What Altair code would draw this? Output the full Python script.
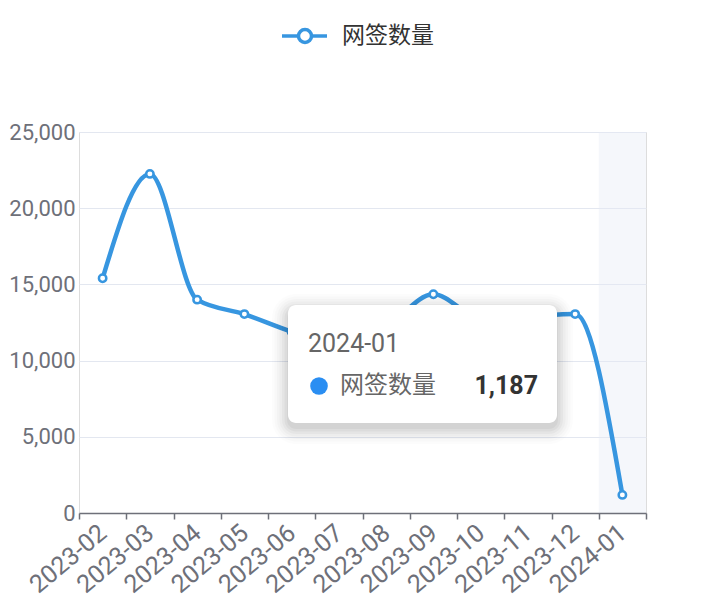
import altair as alt
import pandas as pd

categories = ["2023-02", "2023-03", "2023-04", "2023-05", "2023-06", "2023-07",
              "2023-08", "2023-09", "2023-10", "2023-11", "2023-12", "2024-01"]
values = [15400, 22250, 14000, 13050, 11900, 11000, 12200, 14350, 12800, 12900, 13050, 1187]
series_name = "网签数量"
y_ticks = [0, 5000, 10000, 15000, 20000, 25000]

CJK = "Noto Sans CJK SC"
NUM = "Roboto"
BLUE = "#3796e0"

df = pd.DataFrame({"month": categories, "value": values})
hl = pd.DataFrame({"month": [categories[-1]], "lo": [0], "hi": [25000]})
one = pd.DataFrame({"k": [0]})

W, H = 567, 381

x_enc = alt.X("month:N", sort=categories,
              scale=alt.Scale(domain=categories, paddingInner=0, paddingOuter=0),
              axis=alt.Axis(title=None, labelAngle=-40, labelAlign="right", labelBaseline="middle",
                            labelFontSize=25, labelColor="#6E7079", labelFont=NUM,
                            labelPadding=10, domainColor="#6E7079", domainWidth=1.5,
                            tickColor="#6E7079", tickSize=6, tickWidth=1.5, tickBand="extent",
                            grid=False))
y_scale = alt.Scale(domain=[0, 25000], nice=False)
y_axis = alt.Axis(title=None, values=y_ticks, format=",.0f", labelFontSize=22, labelColor="#6E7079",
                  labelFont=NUM, labelPadding=4, domain=False, ticks=False,
                  gridColor="#E3E7F0", gridWidth=1.2)

band = alt.Chart(hl).mark_rect(color="#e6eaf4", opacity=0.4).encode(
    x=x_enc,
    y=alt.Y("lo:Q", scale=y_scale, axis=y_axis),
    y2="hi:Q",
)

line = alt.Chart(df).mark_line(interpolate="monotone", color=BLUE, strokeWidth=4.5).encode(
    x=x_enc, y=alt.Y("value:Q", scale=y_scale, axis=y_axis)
)
pts = alt.Chart(df).mark_point(filled=True, fill="white", stroke=BLUE, strokeWidth=2.5,
                               size=55, opacity=1).encode(
    x=x_enc, y=alt.Y("value:Q", scale=y_scale)
)

# Legend (drawn)
leg_line = alt.Chart(one).mark_rule(color=BLUE, strokeWidth=3.5).encode(
    x=alt.value(203), x2=alt.value(248), y=alt.value(-96))
leg_pt = alt.Chart(one).mark_point(filled=True, fill="white", stroke=BLUE, strokeWidth=3.5,
                                   size=170, opacity=1).encode(
    x=alt.value(226), y=alt.value(-96))
leg_txt = alt.Chart(one).mark_text(align="left", baseline="middle", fontSize=23, font=CJK,
                                   color="#333333").encode(
    x=alt.value(263), y=alt.value(-96), text=alt.value(series_name))

# Tooltip (drawn)
tx0, tx1, ty0, ty1 = 209, 478, 173, 291
shadows = []
for i, op in enumerate([0.012, 0.016, 0.02, 0.025, 0.03, 0.035, 0.04]):
    g = 16 - 2.5 * i
    shadows.append(alt.Chart(one).mark_rect(color="black", opacity=op, cornerRadius=8 + g).encode(
        x=alt.value(tx0 - g), x2=alt.value(tx1 + g), y=alt.value(ty0 - g + 5), y2=alt.value(ty1 + g + 5)))
tip_box = alt.Chart(one).mark_rect(color="white", cornerRadius=8).encode(
    x=alt.value(tx0), x2=alt.value(tx1), y=alt.value(ty0), y2=alt.value(ty1))
tip_title = alt.Chart(one).mark_text(align="left", baseline="middle", fontSize=25, font=NUM,
                                     color="#666666").encode(
    x=alt.value(229), y=alt.value(212), text=alt.value(categories[-1]))
tip_dot = alt.Chart(one).mark_point(filled=True, color="#2a8ef2", size=310, opacity=1).encode(
    x=alt.value(240), y=alt.value(254))
tip_name = alt.Chart(one).mark_text(align="left", baseline="middle", fontSize=24, font=CJK,
                                    color="#666666").encode(
    x=alt.value(261), y=alt.value(254), text=alt.value(series_name))
tip_val = alt.Chart(one).mark_text(align="right", baseline="middle", fontSize=25, font=NUM,
                                   fontWeight="bold", color="#333333").encode(
    x=alt.value(459), y=alt.value(254), text=alt.value(f"{values[-1]:,}"))

chart = alt.layer(
    band, line, pts, leg_line, leg_pt, leg_txt, *shadows, tip_box, tip_title, tip_dot, tip_name, tip_val
).properties(
    width=W, height=H,
    autosize=alt.AutoSizeParams(type="none"),
    padding={"left": 71, "top": 124, "right": 62, "bottom": 90},
).configure_view(stroke=None).configure(background="white")

chart.save("out.html", embed_options={"renderer": "svg", "actions": False})
